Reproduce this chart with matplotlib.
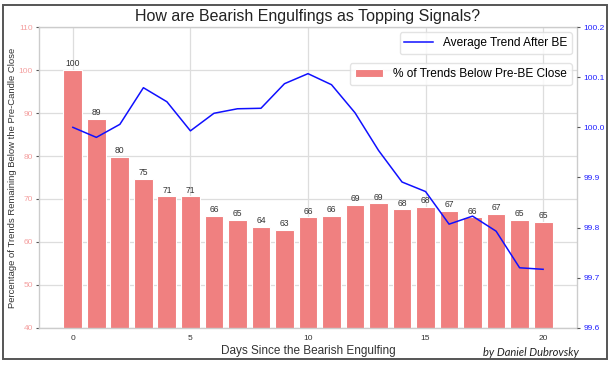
import matplotlib
matplotlib.use("Agg")
import matplotlib.pyplot as plt
from matplotlib.patches import Rectangle

days = list(range(21))
pct_below = [100, 88.6, 79.8, 74.6, 70.6, 70.6, 66.0, 65.1, 63.6, 62.8, 65.7,
             66.0, 68.6, 69.0, 67.6, 68.1, 67.3, 65.7, 66.6, 65.1, 64.7]
avg_trend = [100.000, 99.980, 100.006, 100.079, 100.051, 99.993, 100.028,
             100.037, 100.038, 100.087, 100.107, 100.085, 100.029, 99.954,
             99.891, 99.872, 99.807, 99.823, 99.793, 99.720, 99.717]
left_ticks = [40, 50, 60, 70, 80, 90, 100, 110]
right_ticks = [99.6, 99.7, 99.8, 99.9, 100.0, 100.1, 100.2]
x_ticks = [0, 5, 10, 15, 20]

plt.rcParams['font.family'] = ['Liberation Sans', 'DejaVu Sans']

fig = plt.figure(figsize=(6.14, 3.65), dpi=100)
ax = fig.add_axes([0.0635, 0.1014, 0.8762, 0.8246])
ax.set_facecolor('white')
for s in ax.spines.values():
    s.set_color('#cccccc')
    s.set_linewidth(1.0)

bars = ax.bar(days, pct_below, width=0.8, color='#f08080', edgecolor='white',
              linewidth=0.8, label='% of Trends Below Pre-BE Close', zorder=2)
for d, v in zip(days, pct_below):
    ax.text(d, v + 0.4, str(int(v + 0.5)), ha='center', va='bottom',
            fontsize=6.2, color='#333333', zorder=3)

ax.set_ylim(40, 110)
ax.set_yticks(left_ticks)
ax.set_xticks(x_ticks)
ax.grid(True, color='#dddddd', linewidth=0.9, zorder=0)
ax.set_axisbelow(True)
ax.tick_params(axis='y', labelsize=6, labelcolor='#f4a0a0', color='#555555',
               length=2.5, width=0.8, pad=2)
ax.tick_params(axis='x', labelsize=6, labelcolor='#333333', length=0, pad=5)

ax.set_xlabel('Days Since the Bearish Engulfing', fontsize=8.5, color='#333333',
              labelpad=2)
ax.set_ylabel('Percentage of Trends Remaining Below the Pre-Candle Close',
              fontsize=6.8, color='#333333')
ax.yaxis.set_label_coords(-0.041, 0.5)
ax.set_title('How are Bearish Engulfings as Topping Signals?', fontsize=11.5,
             color='#222222', pad=4)

ax2 = ax.twinx()
ax2.plot(days, avg_trend, color='#1010ff', linewidth=1.1,
         label='Average Trend After BE')
ax2.set_ylim(99.6, 100.2)
ax2.set_yticks(right_ticks)
ax2.set_yticklabels([f'{t:.1f}' for t in right_ticks])
ax2.grid(False)
for s in ax2.spines.values():
    s.set_visible(False)
ax2.tick_params(axis='y', labelsize=6, labelcolor='#2020ff', color='#555555',
                length=2.5, width=0.8, pad=2)

leg1 = ax2.legend(loc='upper right', fontsize=8.6, frameon=True,
                  borderaxespad=0.45, handlelength=2.4, fancybox=True)
leg1.get_frame().set_edgecolor('#dddddd')
leg2 = ax.legend(loc='upper right', bbox_to_anchor=(1.0, 1 - 31 / 301),
                 fontsize=8.6, frameon=True, borderaxespad=0.45,
                 handlelength=2.4, fancybox=True)
leg2.get_frame().set_edgecolor('#dddddd')

fig.text(0.942, 0.035, 'by Daniel Dubrovsky', fontsize=8, style='italic',
         family=['Lato', 'DejaVu Sans'], color='#222222', ha='right',
         va='center')

fig.patches.append(Rectangle((3 / 614, 1 - 359 / 365), 604 / 614, 354 / 365,
                             transform=fig.transFigure, fill=False,
                             edgecolor='#555555', linewidth=1.4))

fig.savefig('out.png', dpi=100, facecolor='white')
